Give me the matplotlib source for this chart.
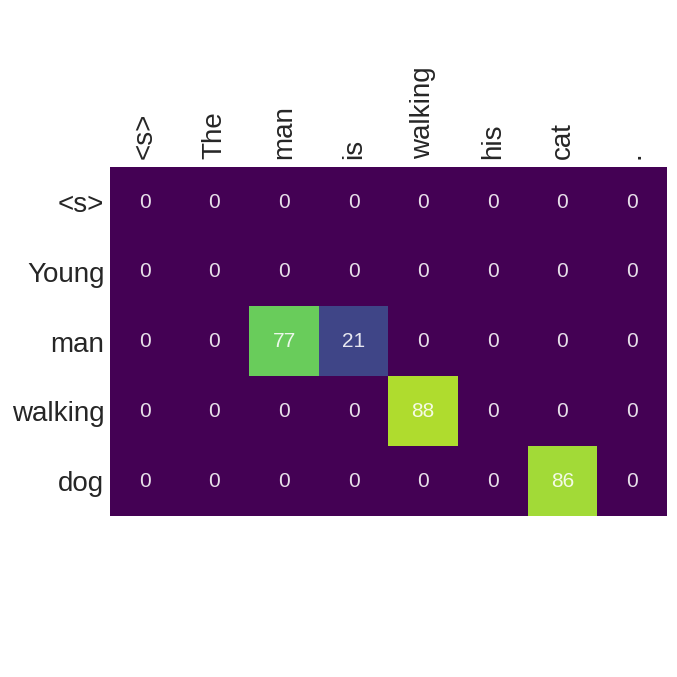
import matplotlib
matplotlib.use("Agg")
import matplotlib.pyplot as plt
import numpy as np

plt.rcParams['font.family'] = ['Liberation Sans', 'DejaVu Sans']

source = ["<s>", "The", "man", "is", "walking", "his", "cat", "."]
target = ["<s>", "Young", "man", "walking", "dog"]
values = np.array([
    [0, 0, 0, 0, 0, 0, 0, 0],
    [0, 0, 0, 0, 0, 0, 0, 0],
    [0, 0, 77, 21, 0, 0, 0, 0],
    [0, 0, 0, 0, 88, 0, 0, 0],
    [0, 0, 0, 0, 0, 0, 86, 0],
])

fig = plt.figure(figsize=(6.77, 6.77), dpi=100)
ax = fig.add_axes([0.1625, 0.238, 0.8225, 0.515])
ax.imshow(values, cmap="viridis", vmin=0, vmax=100, aspect="auto",
          extent=(-0.5, len(source) - 0.5, len(target) - 0.5, -0.5))
for i in range(len(target)):
    for j in range(len(source)):
        ax.text(j, i, str(values[i, j]), ha="center", va="center",
                color="white", alpha=0.88, fontsize=15)

ax.xaxis.tick_top()
ax.set_xticks(range(len(source)))
ax.set_xticklabels(source, rotation=90, fontsize=20, color="#262626")
ax.set_yticks(range(len(target)))
ax.set_yticklabels(target, fontsize=20, color="#262626")
ax.tick_params(axis="y", length=0, pad=4)
ax.tick_params(axis="x", length=0, pad=6)
for s in ax.spines.values():
    s.set_visible(False)

fig.savefig("out.png", dpi=100)
